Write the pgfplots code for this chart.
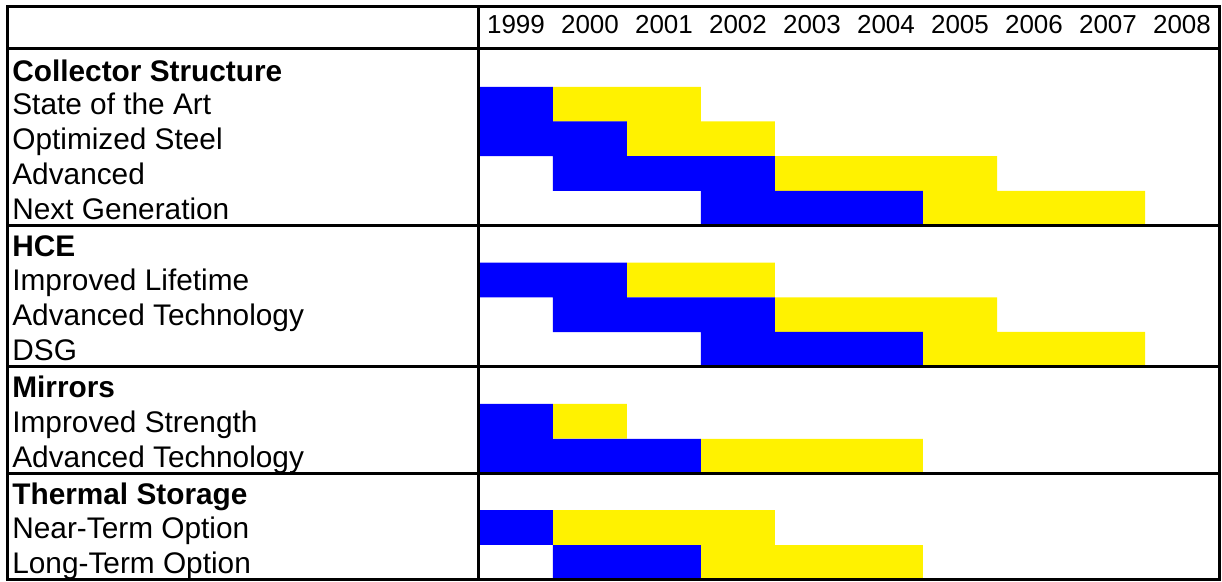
\documentclass[border=0pt]{standalone}
\usepackage{pgfplots}
\pgfplotsset{compat=1.18}
\usepackage{pgfplotstable}
\usepackage{fontspec}
\setmainfont{Liberation Sans}

% row centre (y), first year offset, years in blue, years in yellow
\pgfplotstableread{
y      start blue yellow
475.75 0     1    2
441.25 0     2    2
406.5  1     3    3
371.75 3     3    3
300    0     2    2
265.25 1     3    3
230.75 3     3    3
158.75 0     1    1
123.75 0     3    3
52.5   0     1    3
17.5   1     2    3
}\tasks

\newcommand{\lab}{\fontsize{14.9}{17}\selectfont}
\newcommand{\yr}{\fontsize{13}{15}\selectfont}

\begin{document}
\begin{tikzpicture}
\useasboundingbox (-3.5pt,-1pt) rectangle (607.5pt,290pt);
\begin{axis}[
    at={(0,0)}, anchor=south west,
    scale only axis, width=606pt, height=286.5pt,
    xmin=-6.378, xmax=10, ymin=0, ymax=573,
    xbar stacked, bar width=34.6,
    axis line style={line width=1.5pt},
    xtick=\empty, ytick=\empty,
    extra x ticks={0}, extra x tick labels={},
    extra y ticks={106.5,213.5,354.5,531}, extra y tick labels={},
    extra tick style={major tick length=0pt, grid=major,
        major grid style={black, line width=1.5pt}},
    axis on top,
]
    \addplot[draw=none, fill=none] table[x=start, y=y] {\tasks};
    \addplot[draw=none, fill=blue] table[x=blue, y=y] {\tasks};
    \addplot[draw=none, fill=yellow] table[x=yellow, y=y] {\tasks};

    % years
    \node[anchor=base, inner sep=0] at (axis cs:0.5,546) {\yr 1999};
    \node[anchor=base, inner sep=0] at (axis cs:1.5,546) {\yr 2000};
    \node[anchor=base, inner sep=0] at (axis cs:2.5,546) {\yr 2001};
    \node[anchor=base, inner sep=0] at (axis cs:3.5,546) {\yr 2002};
    \node[anchor=base, inner sep=0] at (axis cs:4.5,546) {\yr 2003};
    \node[anchor=base, inner sep=0] at (axis cs:5.5,546) {\yr 2004};
    \node[anchor=base, inner sep=0] at (axis cs:6.5,546) {\yr 2005};
    \node[anchor=base, inner sep=0] at (axis cs:7.5,546) {\yr 2006};
    \node[anchor=base, inner sep=0] at (axis cs:8.5,546) {\yr 2007};
    \node[anchor=base, inner sep=0] at (axis cs:9.5,546) {\yr 2008};

    % row labels
    \node[anchor=base west, inner sep=0] at (axis cs:-6.311,498) {\lab\bfseries Collector Structure};
    \node[anchor=base west, inner sep=0] at (axis cs:-6.311,465) {\lab State of the Art};
    \node[anchor=base west, inner sep=0] at (axis cs:-6.311,430.25) {\lab Optimized Steel};
    \node[anchor=base west, inner sep=0] at (axis cs:-6.311,395.5) {\lab Advanced};
    \node[anchor=base west, inner sep=0] at (axis cs:-6.311,360.75) {\lab Next Generation};
    \node[anchor=base west, inner sep=0] at (axis cs:-6.311,323.5) {\lab\bfseries HCE};
    \node[anchor=base west, inner sep=0] at (axis cs:-6.311,289) {\lab Improved Lifetime};
    \node[anchor=base west, inner sep=0] at (axis cs:-6.311,254.25) {\lab Advanced Technology};
    \node[anchor=base west, inner sep=0] at (axis cs:-6.311,219.75) {\lab DSG};
    \node[anchor=base west, inner sep=0] at (axis cs:-6.311,182.5) {\lab\bfseries Mirrors};
    \node[anchor=base west, inner sep=0] at (axis cs:-6.311,147.75) {\lab Improved Strength};
    \node[anchor=base west, inner sep=0] at (axis cs:-6.311,112.75) {\lab Advanced Technology};
    \node[anchor=base west, inner sep=0] at (axis cs:-6.311,75.75) {\lab\bfseries Thermal Storage};
    \node[anchor=base west, inner sep=0] at (axis cs:-6.311,41.5) {\lab Near-Term Option};
    \node[anchor=base west, inner sep=0] at (axis cs:-6.311,6.5) {\lab Long-Term Option};
\end{axis}
\end{tikzpicture}
\end{document}
